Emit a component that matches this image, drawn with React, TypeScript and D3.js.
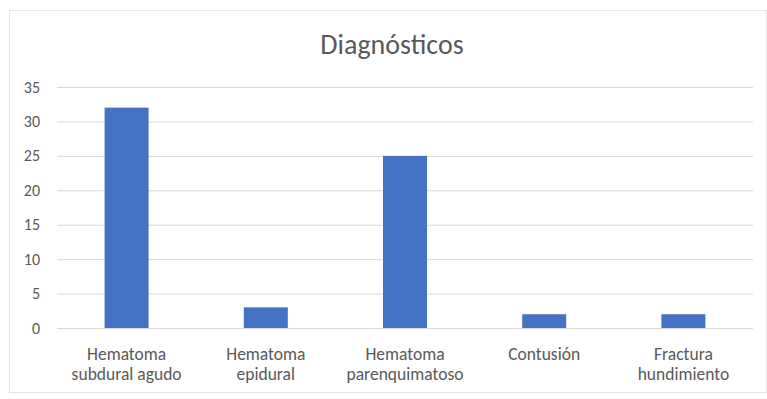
import React from "react";
import * as d3 from "d3";

const categories: string[][] = [
  ["Hematoma", "subdural agudo"],
  ["Hematoma", "epidural"],
  ["Hematoma", "parenquimatoso"],
  ["Contusión"],
  ["Fractura", "hundimiento"],
];
const values: number[] = [32, 3, 25, 2, 2];
const yTicks: number[] = [0, 5, 10, 15, 20, 25, 30, 35];
const title = "Diagnósticos";

export default function App() {
  const W = 767, H = 399;
  const left = 57, right = 753, top = 87, bottom = 328;
  const x = d3.scaleBand<number>().domain(values.map((_, i) => i)).range([left, right]).paddingInner(0.684).paddingOuter(0.342);
  const y = d3.scaleLinear().domain([0, 35]).range([bottom, top]);
  const font = "Calibri, Carlito, 'Open Sans', sans-serif";
  return (
    <svg width={W} height={H} style={{ position: "absolute", left: 0, top: 0, background: "#fff" }}>
      <rect x={9.5} y={10.5} width={757} height={382} fill="#fff" stroke="#e6e6e6" />
      <text x={392} y={54} textAnchor="middle" fontFamily={font} fontSize={28} fill="#595959">{title}</text>
      {yTicks.map((t) => (
        <g key={t}>
          <line x1={left} x2={right} y1={y(t) + 0.5} y2={y(t) + 0.5} stroke="#d9d9d9" strokeWidth={1} />
          <text x={40} y={y(t) + 5.5} textAnchor="end" fontFamily={font} fontSize={16} fill="#595959">{t}</text>
        </g>
      ))}
      {values.map((v, i) => (
        <rect key={i} x={x(i)} y={y(v)} width={x.bandwidth()} height={y(0) - y(v)} fill="#4472C4" />
      ))}
      {categories.map((lines, i) => (
        <text key={i} textAnchor="middle" fontFamily={font} fontSize={17.5} fill="#595959">
          {lines.map((l, j) => (
            <tspan key={j} x={(x(i) as number) + x.bandwidth() / 2} y={360 + j * 20}>{l}</tspan>
          ))}
        </text>
      ))}
    </svg>
  );
}
